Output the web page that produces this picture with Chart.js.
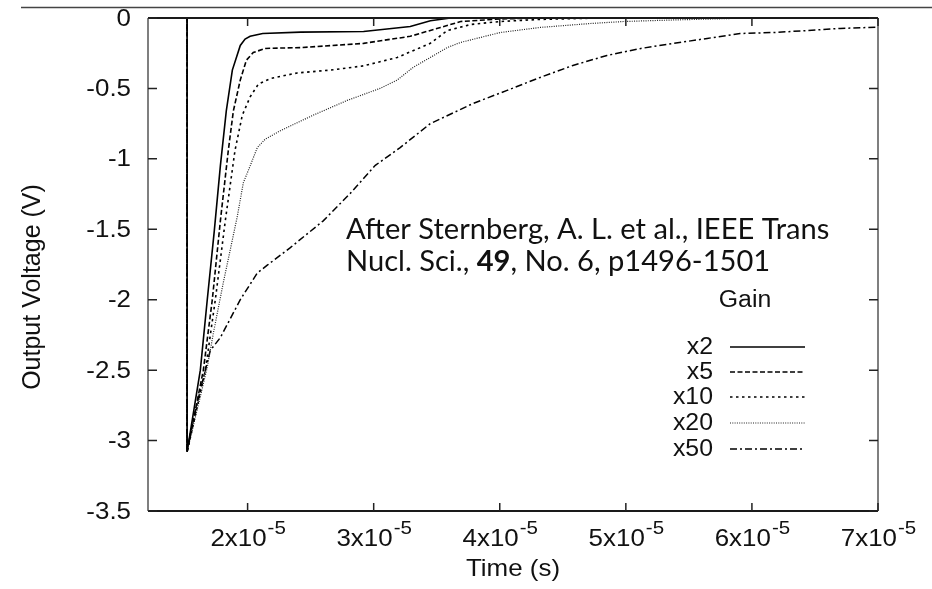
<!DOCTYPE html>
<html>
<head>
<meta charset="utf-8">
<script src="https://cdn.jsdelivr.net/npm/chart.js@4.4.1/dist/chart.umd.min.js"></script>
<style>
  html, body { margin: 0; padding: 0; background: #fff; }
</style>
</head>
<body>
<canvas id="gainChart" width="932" height="589"></canvas>
<script>
// time in units of 1e-5 s, voltage in V
const t_x2 = [1.21, 1.52, 1.52, 1.625, 1.68, 1.736, 1.784, 1.831, 1.879, 1.942, 1.98, 2.02, 2.12, 2.42, 2.92, 3.29, 3.45, 3.61, 7.0];
const v_x2 = [0, 0, -3.08, -2.50, -2.00, -1.51, -1.05, -0.66, -0.37, -0.195, -0.15, -0.13, -0.11, -0.10, -0.096, -0.06, -0.02, 0, 0];

const t_x5 = [1.21, 1.52, 1.52, 1.649, 1.72, 1.784, 1.847, 1.887, 1.942, 1.99, 2.045, 2.14, 2.42, 2.92, 3.29, 3.53, 3.69, 4.0, 4.3, 7.0];
const v_x5 = [0, 0, -3.08, -2.50, -2.00, -1.44, -0.94, -0.66, -0.44, -0.30, -0.245, -0.216, -0.21, -0.18, -0.13, -0.067, -0.025, -0.007, 0, 0];

const t_x10 = [1.21, 1.52, 1.52, 1.665, 1.744, 1.823, 1.90, 1.958, 2.02, 2.085, 2.18, 2.394, 2.656, 2.918, 3.187, 3.449, 3.584, 3.77, 4.0, 4.32, 4.8, 7.0];
const v_x10 = [0, 0, -3.08, -2.50, -2.00, -1.44, -0.94, -0.69, -0.56, -0.47, -0.43, -0.39, -0.37, -0.34, -0.28, -0.18, -0.089, -0.046, -0.025, -0.01, 0, 0];

const t_x20 = [1.21, 1.52, 1.52, 1.68, 1.728, 1.807, 1.918, 1.966, 2.02, 2.077, 2.14, 2.26, 2.52, 2.79, 3.05, 3.187, 3.314, 3.449, 3.584, 3.687, 4.004, 4.32, 4.72, 4.98, 5.375, 5.99, 7.0];
const v_x20 = [0, 0, -3.08, -2.48, -2.24, -1.88, -1.41, -1.17, -1.05, -0.92, -0.86, -0.80, -0.69, -0.585, -0.50, -0.44, -0.35, -0.28, -0.21, -0.174, -0.103, -0.067, -0.039, -0.025, -0.014, 0, 0];

const t_x50 = [1.21, 1.52, 1.52, 1.546, 1.625, 1.704, 1.783, 1.942, 2.077, 2.156, 2.339, 2.60, 2.814, 3.013, 3.21, 3.449, 3.79, 4.058, 4.32, 4.58, 4.85, 5.12, 5.375, 5.645, 5.906, 6.17, 6.44, 6.70, 7.0];
const v_x50 = [0, 0, -3.08, -2.95, -2.64, -2.36, -2.27, -2.00, -1.81, -1.755, -1.63, -1.44, -1.245, -1.046, -0.92, -0.75, -0.606, -0.514, -0.422, -0.337, -0.266, -0.216, -0.181, -0.145, -0.11, -0.103, -0.089, -0.074, -0.065];

const gainLabels = ['x2', 'x5', 'x10', 'x20', 'x50'];
const xTicks = [2, 3, 4, 5, 6, 7];        // x10^-5 s
const yTicks = [0, -0.5, -1, -1.5, -2, -2.5, -3, -3.5];

const noteLine1 = 'After Sternberg, A. L. et al., IEEE Trans';
const noteLine2 = [['Nucl. Sci., ', false], ['49', true], [', No. 6, p1496-1501', false]];

//line styles, gnuplot-ish
const dashes = [[], [5, 2.5], [2.5, 3.5], [1, 1.3], [7, 3, 2, 3]];
const widths = [1.6, 1.6, 1.6, 1.2, 1.5];

function toPoints(t, v) {
  return t.map((tt, i) => ({ x: tt * 1e-5, y: v[i] }));
}

const series = [[t_x2, v_x2], [t_x5, v_x5], [t_x10, v_x10], [t_x20, v_x20], [t_x50, v_x50]];

const FONT = '"Liberation Sans", Arial, sans-serif';
const SX = 1.08; // labels in the scan look a bit stretched sideways

function sText(ctx, txt, px, py, align) {
  ctx.save();
  ctx.translate(px, py);
  ctx.scale(SX, 1);
  ctx.textAlign = align;
  ctx.fillText(txt, 0, 0);
  ctx.restore();
}

const gnuplotLook = {
  id: 'gnuplotLook',
  afterDraw(chart) {
    const ctx = chart.ctx;
    const a = chart.chartArea;
    const xs = chart.scales.x, ys = chart.scales.y;

    ctx.save();
    // rule across the top of the page
    ctx.strokeStyle = '#444';
    ctx.lineWidth = 1.3;
    ctx.beginPath();
    ctx.moveTo(21, 7.5); ctx.lineTo(932, 7.5);
    ctx.stroke();

    // frame
    ctx.strokeStyle = '#1a1a1a';
    ctx.lineWidth = 2;
    ctx.beginPath();
    ctx.moveTo(a.left, a.bottom); ctx.lineTo(a.right, a.bottom);
    ctx.moveTo(a.left, a.top); ctx.lineTo(a.right, a.top);
    ctx.stroke();
    ctx.strokeStyle = '#555';
    ctx.lineWidth = 1.5;
    ctx.beginPath();
    ctx.moveTo(a.left, a.top); ctx.lineTo(a.left, a.bottom);
    ctx.moveTo(a.right, a.top); ctx.lineTo(a.right, a.bottom);
    ctx.stroke();

    // inward ticks, mirrored
    ctx.strokeStyle = '#222';
    ctx.lineWidth = 1.5;
    ctx.beginPath();
    xTicks.forEach(t => {
      const px = xs.getPixelForValue(t * 1e-5);
      ctx.moveTo(px, a.bottom); ctx.lineTo(px, a.bottom - 8);
      ctx.moveTo(px, a.top); ctx.lineTo(px, a.top + 8);
    });
    yTicks.forEach(v => {
      const py = ys.getPixelForValue(v);
      ctx.moveTo(a.left, py); ctx.lineTo(a.left + 9, py);
      ctx.moveTo(a.right, py); ctx.lineTo(a.right - 9, py);
    });
    ctx.stroke();

    // tick labels
    ctx.fillStyle = '#111';
    ctx.textBaseline = 'middle';
    ctx.font = '24px ' + FONT;
    yTicks.forEach(v => {
      sText(ctx, String(v), 131, ys.getPixelForValue(v) + 1, 'right');
    });

    ctx.textBaseline = 'alphabetic';
    xTicks.forEach(t => {
      const px = xs.getPixelForValue(t * 1e-5);
      const main = t + 'x10', sup = '-5';
      ctx.font = '24px ' + FONT;
      const wm = ctx.measureText(main).width * SX;
      ctx.font = '19px ' + FONT;
      const ws = ctx.measureText(sup).width * SX;
      const x0 = px - (wm + ws) / 2;
      ctx.font = '24px ' + FONT;
      sText(ctx, main, x0, 546, 'left');
      ctx.font = '19px ' + FONT;
      sText(ctx, sup, x0 + wm + 1, 534, 'left');
    });

    // axis titles
    ctx.font = '24px ' + FONT;
    sText(ctx, 'Time (s)', (a.left + a.right) / 2, 576, 'center');
    ctx.save();
    ctx.translate(40, 287);
    ctx.rotate(-Math.PI / 2);
    ctx.font = '25px ' + FONT;
    ctx.textAlign = 'center';
    ctx.fillText('Output Voltage (V)', 0, 0);
    ctx.restore();

    // key
    const keyY = [347, 372, 397, 423, 449];
    ctx.font = '23px ' + FONT;
    ctx.textBaseline = 'middle';
    sText(ctx, 'Gain', 745, 301, 'center');
    chart.data.datasets.forEach((ds, i) => {
      sText(ctx, gainLabels[i], 713, keyY[i] + 1, 'right');
      ctx.save();
      ctx.strokeStyle = ds.borderColor;
      ctx.lineWidth = ds.borderWidth;
      ctx.setLineDash(ds.borderDash);
      ctx.beginPath();
      ctx.moveTo(730, keyY[i]); ctx.lineTo(805, keyY[i]);
      ctx.stroke();
      ctx.restore();
    });

    // citation note
    ctx.textBaseline = 'alphabetic';
    ctx.textAlign = 'left';
    ctx.font = '100px Lato, "Open Sans", sans-serif';
    const fs = 100 * 484 / ctx.measureText(noteLine1).width;
    ctx.font = fs.toFixed(1) + 'px Lato, "Open Sans", sans-serif';
    ctx.fillStyle = '#111';
    ctx.fillText(noteLine1, 346, 239);
    let nx = 346;
    noteLine2.forEach(([txt, bold]) => {
      ctx.font = (bold ? 'bold ' : '') + fs.toFixed(1) + 'px Lato, "Open Sans", sans-serif';
      ctx.fillText(txt, nx, 271);
      nx += ctx.measureText(txt).width;
    });
    ctx.restore();
  }
};

new Chart(document.getElementById('gainChart'), {
  type: 'scatter',
  data: {
    datasets: series.map((s, i) => ({
      label: gainLabels[i],
      data: toPoints(s[0], s[1]),
      showLine: true,
      borderColor: i === 3 ? '#222' : '#000',
      borderWidth: widths[i],
      borderDash: dashes[i],
      pointRadius: 0,
      tension: 0
    }))
  },
  options: {
    responsive: false,
    animation: false,
    layout: { padding: { left: 148, top: 18, right: 54, bottom: 78 } },
    plugins: {
      legend: { display: false },
      tooltip: { enabled: false }
    },
    scales: {
      x: { type: 'linear', display: false, min: 1.21e-5, max: 7e-5 },
      y: { type: 'linear', display: false, min: -3.5, max: 0 }
    }
  },
  plugins: [gnuplotLook]
});
</script>
</body>
</html>
